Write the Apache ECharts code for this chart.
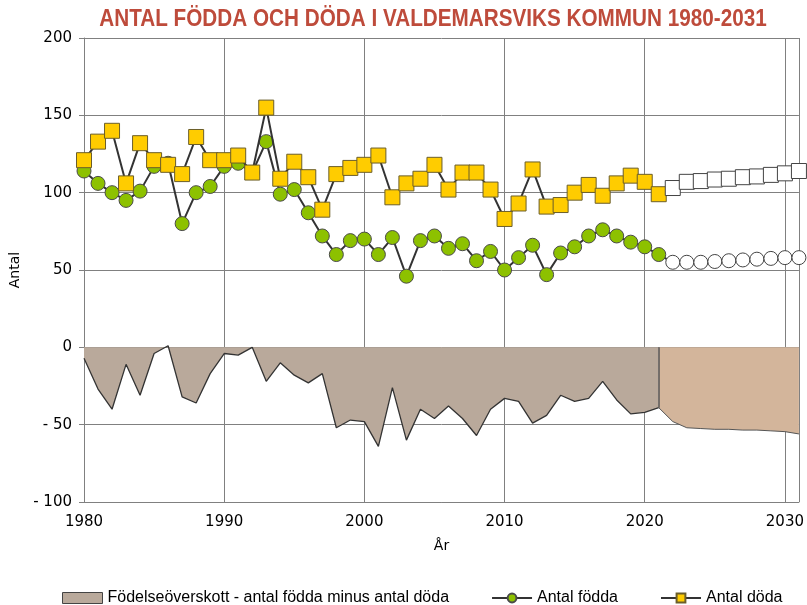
<!DOCTYPE html>
<html>
<head>
<meta charset="utf-8">
<script src="https://cdn.jsdelivr.net/npm/echarts@6/dist/echarts.min.js"></script>
<style>
  html, body { margin: 0; padding: 0; background: #fff; }
  #chart { width: 807px; height: 605px; }
</style>
</head>
<body>
<div id="chart"></div>
<script>
// historiska år 1980-2021
var histYears = [1980, 1981, 1982, 1983, 1984, 1985, 1986, 1987, 1988, 1989,
                 1990, 1991, 1992, 1993, 1994, 1995, 1996, 1997, 1998, 1999,
                 2000, 2001, 2002, 2003, 2004, 2005, 2006, 2007, 2008, 2009,
                 2010, 2011, 2012, 2013, 2014, 2015, 2016, 2017, 2018, 2019,
                 2020, 2021];
// prognos 2022-2031
var projYears = [2022, 2023, 2024, 2025, 2026, 2027, 2028, 2029, 2030, 2031];

var fodda = [114, 106, 100, 95, 101, 117, 119, 80, 100, 104,
             117, 119, 113, 133, 99, 102, 87, 72, 60, 69,
             70, 60, 71, 46, 69, 72, 64, 67, 56, 62,
             50, 58, 66, 47, 61, 65, 72, 76, 72, 68,
             65, 60];
var doda = [121, 133, 140, 106, 132, 121, 118, 112, 136, 121,
            121, 124, 113, 155, 109, 120, 110, 89, 112, 116,
            118, 124, 97, 106, 109, 118, 102, 113, 113, 102,
            83, 93, 115, 91, 92, 100, 105, 98, 106, 111,
            107, 99];
var overskott = [-7, -27, -40, -11, -31, -4, 1, -32, -36, -17,
                 -4, -5, 0, -22, -10, -18, -23, -17, -52, -47,
                 -48, -64, -26, -60, -40, -46, -38, -46, -57, -40,
                 -33, -35, -49, -44, -31, -35, -33, -22, -34, -43,
                 -42, -39];

var foddaProg = [55, 55, 55, 55.5, 56, 56.5, 57, 57.5, 58, 58];
var dodaProg = [103, 107, 107.5, 108.5, 109, 110, 110.5, 111.5, 112.5, 114];
var overskottProg = [-48, -52, -52.5, -53, -53, -53.5, -53.5, -54, -54.5, -56];

var yTicks = [-100, -50, 0, 50, 100, 150, 200];

var titel = 'ANTAL FÖDDA OCH DÖDA I VALDEMARSVIKS KOMMUN 1980-2031';
var namnOverskott = 'Födelseöverskott - antal födda minus antal döda';
var namnFodda = 'Antal födda';
var namnDoda = 'Antal döda';

function pairs(xs, ys) {
    return xs.map(function (x, i) { return [x, ys[i]]; });
}
// prognosen börjar i sista historiska punkten
function progPairs(lastVal, ys, hideFirst) {
    var last = histYears[histYears.length - 1];
    var first = hideFirst ? { value: [last, lastVal], symbol: 'none' } : [last, lastVal];
    return [first].concat(pairs(projYears, ys));
}

var lastYear = histYears[histYears.length - 1];

var option = {
    backgroundColor: '#fff',
    animation: false,
    // titeln i smal stil: vanlig font, hoptryckt i x-led
    graphic: [{
        type: 'text',
        x: 433,
        y: 20,
        scaleX: 0.9,
        silent: true,
        style: {
            text: titel,
            fill: '#BE4B3B',
            font: 'bold 23px "Liberation Sans", Arial, sans-serif',
            align: 'center',
            verticalAlign: 'middle'
        }
    }],
    legend: {
        top: 585,
        left: 57,
        itemGap: 42,
        itemWidth: 40,
        itemHeight: 11,
        textStyle: { fontFamily: '"Liberation Sans", Arial, sans-serif', fontSize: 16, color: '#000' },
        data: [
            { name: namnOverskott, icon: 'rect',
              itemStyle: { color: '#B9A99B', borderColor: '#444', borderWidth: 1 } },
            { name: namnFodda },
            { name: namnDoda }
        ]
    },
    grid: { left: 84, right: 6, top: 38, bottom: 103 },
    xAxis: {
        type: 'value',
        min: 1980,
        max: 2031,
        interval: 10,
        name: 'År',
        nameLocation: 'middle',
        nameGap: 37,
        nameTextStyle: { fontFamily: 'DejaVu Sans', fontSize: 14, color: '#000' },
        axisLine: { show: true, onZero: false, lineStyle: { color: '#808080' } },
        axisTick: { show: false },
        axisLabel: {
            fontFamily: 'DejaVu Sans', fontSize: 15, color: '#000', margin: 13,
            formatter: function (v) { return v % 10 === 0 ? String(v) : ''; }
        },
        splitLine: { show: true, lineStyle: { color: '#808080', width: 1 } }
    },
    yAxis: {
        type: 'value',
        min: yTicks[0],
        max: yTicks[yTicks.length - 1],
        interval: 50,
        name: 'Antal',
        nameLocation: 'middle',
        nameGap: 60,
        nameRotate: 90,
        nameTextStyle: { fontFamily: 'DejaVu Sans', fontSize: 14, color: '#000' },
        axisLine: { show: true, lineStyle: { color: '#808080' } },
        axisTick: { show: true, length: 5, lineStyle: { color: '#808080' } },
        axisLabel: {
            fontFamily: 'DejaVu Sans', fontSize: 15, color: '#000', margin: 12,
            formatter: function (v) { return v < 0 ? '- ' + (-v) : String(v); }
        },
        splitLine: { show: true, lineStyle: { color: '#808080', width: 1 } }
    },
    series: [
        {
            name: namnOverskott,
            type: 'line',
            data: pairs(histYears, overskott),
            symbol: 'none',
            lineStyle: { color: '#333', width: 1.3 },
            itemStyle: { color: '#B9A99B' },
            areaStyle: { color: '#B9A99B', opacity: 1 },
            z: 1,
            markLine: {
                silent: true,
                symbol: 'none',
                label: { show: false },
                lineStyle: { color: '#555', width: 1.5, type: 'solid' },
                data: [[{ coord: [lastYear, 0] }, { coord: [lastYear, overskott[overskott.length - 1]] }]]
            }
        },
        {
            name: 'prognos överskott',
            type: 'line',
            data: progPairs(overskott[overskott.length - 1], overskottProg, false),
            symbol: 'none',
            lineStyle: { color: '#555', width: 1 },
            areaStyle: { color: '#D3B59B', opacity: 1 },
            z: 1
        },
        {
            name: namnFodda,
            type: 'line',
            data: pairs(histYears, fodda),
            symbol: 'circle',
            symbolSize: 14,
            lineStyle: { color: '#333', width: 2 },
            itemStyle: { color: '#8DC100', borderColor: '#4a4a4a', borderWidth: 1 },
            z: 3
        },
        {
            name: 'prognos födda',
            type: 'line',
            data: progPairs(fodda[fodda.length - 1], foddaProg, true),
            symbol: 'circle',
            symbolSize: 14,
            lineStyle: { color: '#333', width: 2 },
            itemStyle: { color: '#fff', borderColor: '#444', borderWidth: 1 },
            z: 3
        },
        {
            name: namnDoda,
            type: 'line',
            data: pairs(histYears, doda),
            symbol: 'rect',
            symbolSize: 15,
            lineStyle: { color: '#333', width: 2 },
            itemStyle: { color: '#FFCC00', borderColor: '#6b5e2a', borderWidth: 1 },
            z: 4
        },
        {
            name: 'prognos döda',
            type: 'line',
            data: progPairs(doda[doda.length - 1], dodaProg, true),
            symbol: 'rect',
            symbolSize: 15,
            lineStyle: { color: '#333', width: 2 },
            itemStyle: { color: '#fff', borderColor: '#444', borderWidth: 1 },
            z: 4
        }
    ]
};

var myChart = echarts.init(document.getElementById('chart'));
myChart.setOption(option);
</script>
</body>
</html>
